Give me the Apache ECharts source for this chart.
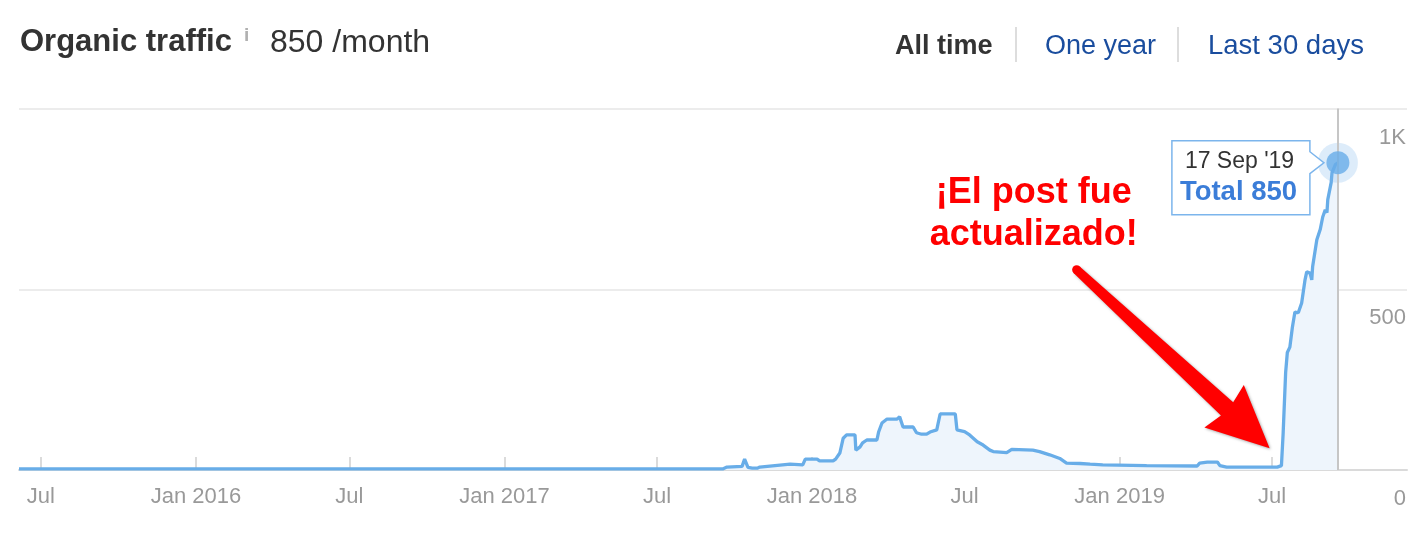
<!DOCTYPE html>
<html><head><meta charset="utf-8">
<script src="https://cdn.jsdelivr.net/npm/echarts@6/dist/echarts.min.js"></script>
<style>html,body{margin:0;padding:0;background:#fff}#c{width:1426px;height:534px}</style>
</head><body><div id="c"></div>
<script>
// ---- data ----
const trafficDates = [
  '2015-06-05','2017-09-17','2017-09-22','2017-10-10','2017-10-13','2017-10-17','2017-10-22','2017-10-28','2017-10-31',
  '2017-11-18','2017-12-06','2017-12-21','2017-12-24','2018-01-07','2018-01-10','2018-01-26','2018-01-29','2018-02-03',
  '2018-02-07','2018-02-11','2018-02-21','2018-02-22','2018-02-27','2018-03-02','2018-03-07','2018-03-19','2018-03-21',
  '2018-03-25','2018-03-31','2018-04-12','2018-04-15','2018-04-19','2018-05-01','2018-05-05','2018-05-11','2018-05-17',
  '2018-05-21','2018-05-29','2018-06-02','2018-06-20','2018-06-22','2018-07-01','2018-07-07','2018-07-16','2018-07-23',
  '2018-07-31','2018-08-04','2018-08-20','2018-08-26','2018-09-20','2018-09-28','2018-10-10','2018-10-22','2018-10-30',
  '2018-11-15','2018-11-27','2018-12-12','2019-02-02','2019-04-03','2019-04-06','2019-04-15','2019-04-27','2019-04-30',
  '2019-05-08','2019-07-07','2019-07-12','2019-07-14','2019-07-17','2019-07-19','2019-07-22','2019-07-25','2019-07-28',
  '2019-08-01','2019-08-05','2019-08-09','2019-08-11','2019-08-15','2019-08-17','2019-08-18','2019-08-23','2019-08-27',
  '2019-08-30','2019-09-02','2019-09-04','2019-09-05','2019-09-09','2019-09-10','2019-09-14','2019-09-17'
];
const trafficValues = [
  3,3,8,10,30,7,5,5,8,
  12,16,14,30,30,25,25,30,47,
  88,97,97,55,64,75,83,83,105,
  130,141,141,147,119,119,103,99,99,
  105,111,155,155,111,106,97,78,69,
  55,51,48,57,55,51,42,32,19,
  18,16,14,12,11,19,22,22,12,
  8,8,12,100,270,325,340,395,437,
  435,462,526,548,545,526,562,637,665,
  700,720,712,748,795,822,845,850
];
const xTickDates = ['2015-07-01','2016-01-01','2016-07-01','2017-01-01','2017-07-01','2018-01-01','2018-07-01','2019-01-01','2019-07-01'];
const xTickLabels = ['Jul','Jan 2016','Jul','Jan 2017','Jul','Jan 2018','Jul','Jan 2019','Jul'];
const yTickValues = [0, 500, 1000];
const yTickLabels = ['0', '500', '1K'];
const xRange = ['2015-06-05', '2019-12-08'];
const arrowTail = ['2018-11-11', 554];
const arrowTip = ['2019-06-28', 60];
const noteAnchor = ['2018-09-21', 709];

// ---- helpers ----
function t(s){ const p = s.split('-').map(Number); return Date.UTC(p[0], p[1]-1, p[2]); }
const xTickTs = xTickDates.map(t);
const seriesData = trafficDates.map((d, i) => [t(d), trafficValues[i]]);
const last = seriesData[seriesData.length - 1];
const MON = ['Jan','Feb','Mar','Apr','May','Jun','Jul','Aug','Sep','Oct','Nov','Dec'];
const LINE = '#68ade8';
const FONT = "'Liberation Sans', Arial, Helvetica, sans-serif";

const chart = echarts.init(document.getElementById('c'), null, {renderer: 'canvas'});
chart.setOption({
  animation: false,
  backgroundColor: '#fff',
  textStyle: {fontFamily: FONT},
  grid: {left: 19, right: 19, top: 108.5, bottom: 64, containLabel: false},
  xAxis: {
    type: 'value',
    min: t(xRange[0]), max: t(xRange[1]),
    axisLine: {show: true, onZero: false, lineStyle: {color: '#dadada', width: 2}},
    axisTick: {show: true, inside: true, length: 13, lineStyle: {color: '#cfcfcf', width: 1.5}, customValues: xTickTs},
    axisLabel: {
      customValues: xTickTs, color: '#999', fontSize: 22, margin: 16, fontFamily: FONT,
      showMinLabel: true, showMaxLabel: true,
      formatter: v => { const i = xTickTs.indexOf(v); return i >= 0 ? xTickLabels[i] : ''; }
    },
    splitLine: {show: false}
  },
  yAxis: {
    type: 'value', position: 'right', min: 0, max: 1000, interval: 500,
    axisLine: {show: false}, axisTick: {show: false},
    splitLine: {lineStyle: {color: '#e6e6e6', width: 1.5}},
    axisLabel: {
      inside: true, margin: 1, color: '#999', fontSize: 22, fontFamily: FONT,
      verticalAlign: 'top', padding: [18, 0, 0, 0],
      formatter: v => { const i = yTickValues.indexOf(v); return i >= 0 ? yTickLabels[i] : ''; }
    }
  },
  series: [
    {
      type: 'line', data: seriesData, showSymbol: false, symbol: 'none',
      lineStyle: {color: LINE, width: 3.3},
      areaStyle: {color: '#eef5fc', opacity: 1},
      z: 3,
      markLine: {
        silent: true, symbol: 'none', label: {show: false},
        lineStyle: {color: '#c6c6c6', width: 2, type: 'solid'},
        data: [{xAxis: last[0]}]
      }
    },
    {type: 'scatter', data: [last], symbolSize: 40, itemStyle: {color: 'rgba(124,181,236,0.33)'}, z: 4, silent: true},
    {type: 'scatter', data: [last], symbolSize: 23, itemStyle: {color: LINE}, z: 5, silent: true}
  ]
});

// ---- annotations ----
const P = chart.convertToPixel({gridIndex: 0}, last);
const px = P[0], py = P[1];
const d = new Date(last[0]);
const dateText = d.getUTCDate() + ' ' + MON[d.getUTCMonth()] + " '" + String(d.getUTCFullYear()).slice(2);
const L = px - 166, R = px - 28, T = py - 22, B = py + 52;

const tail = chart.convertToPixel({gridIndex: 0}, [t(arrowTail[0]), arrowTail[1]]);
const tip = chart.convertToPixel({gridIndex: 0}, [t(arrowTip[0]), arrowTip[1]]);
const dx = tip[0] - tail[0], dy = tip[1] - tail[1], len = Math.hypot(dx, dy);
const ux = dx / len, uy = dy / len, nx = -uy, ny = ux;
function pt(a, b){ return [tail[0] + ux * a + nx * b, tail[1] + uy * a + ny * b]; }
const headLen = 58, headHalf = 29, shaftHead = 9, shaftTail = 4.5;
const arrowPts = [
  pt(0, -shaftTail), pt(len - headLen, -shaftHead), pt(len - headLen - 4, -headHalf), pt(len, 0),
  pt(len - headLen - 4, headHalf), pt(len - headLen, shaftHead), pt(0, shaftTail)
];
const note = chart.convertToPixel({gridIndex: 0}, [t(noteAnchor[0]), noteAnchor[1]]);

chart.setOption({
  graphic: [
    {type: 'text', x: 20, y: 42.5, style: {text: 'Organic traffic', font: "bold 31px " + FONT, fill: '#333', verticalAlign: 'middle'}},
    {type: 'text', x: 244, y: 36, style: {text: 'i', font: "bold 19px " + FONT, fill: '#b0b0b0', verticalAlign: 'middle'}},
    {type: 'text', x: 270, y: 43, style: {text: '850 /month', font: "32px " + FONT, fill: '#333', verticalAlign: 'middle'}},
    {type: 'text', x: 895, y: 46.5, style: {text: 'All time', font: "bold 27px " + FONT, fill: '#333', verticalAlign: 'middle'}},
    {type: 'line', shape: {x1: 1016, y1: 27, x2: 1016, y2: 62}, style: {stroke: '#dddddd', lineWidth: 2}},
    {type: 'text', x: 1045, y: 46.5, style: {text: 'One year', font: "27px " + FONT, fill: '#1a4d9e', verticalAlign: 'middle'}},
    {type: 'line', shape: {x1: 1178, y1: 27, x2: 1178, y2: 62}, style: {stroke: '#dddddd', lineWidth: 2}},
    {type: 'text', x: 1208, y: 46.5, style: {text: 'Last 30 days', font: "27.5px " + FONT, fill: '#1a4d9e', verticalAlign: 'middle'}},
    {type: 'text', x: note[0], y: note[1], z: 20, style: {text: '¡El post fue\nactualizado!', font: "bold 36px " + FONT, fill: '#ff0000', align: 'center', verticalAlign: 'middle', lineHeight: 42}},
    {type: 'polygon', z: 20, shape: {points: arrowPts}, style: {fill: '#ff0000', shadowBlur: 3, shadowColor: 'rgba(0,0,0,0.35)', shadowOffsetX: 1, shadowOffsetY: 1}},
    {type: 'circle', z: 20, shape: {cx: tail[0], cy: tail[1], r: shaftTail}, style: {fill: '#ff0000'}},
    {type: 'polygon', z: 15, shape: {points: [[L, T], [R, T], [R, py - 11], [px - 14, py], [R, py + 11], [R, B], [L, B]]},
      style: {fill: 'rgba(255,255,255,0.92)', stroke: '#7cb5ec', lineWidth: 1.5}},
    {type: 'text', z: 16, x: L + 13, y: py - 1, style: {text: dateText, font: "23px " + FONT, fill: '#333', verticalAlign: 'middle'}},
    {type: 'text', z: 16, x: L + 8, y: py + 30, style: {text: 'Total ' + last[1], font: "bold 27.5px " + FONT, fill: '#3b7dd8', verticalAlign: 'middle'}}
  ]
});
</script>
</body></html>
